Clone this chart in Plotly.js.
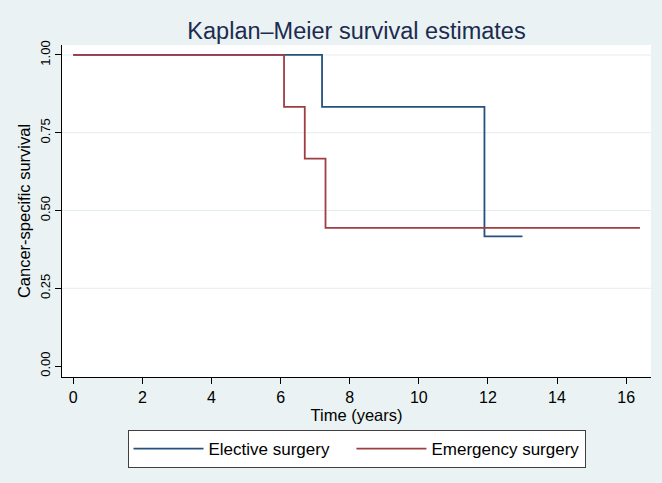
<!DOCTYPE html>
<html>
<head>
<meta charset="utf-8">
<script src="https://cdn.plot.ly/plotly-3.0.1.min.js"></script>
<style>
  html, body { margin: 0; padding: 0; background: #eaf2f3; }
  #km { width: 662px; height: 483px; }
</style>
</head>
<body>
<div id="km"></div>
<script>
// Kaplan–Meier step estimates, time in years
const electiveTime = [0, 7.2, 11.9, 13.0];
const electiveSurv = [1.0, 0.833, 0.417, 0.417];
const emergencyTime = [0, 6.1, 6.7, 7.3, 16.4];
const emergencySurv = [1.0, 0.833, 0.667, 0.444, 0.444];

const seriesNames = ['Elective surgery', 'Emergency surgery'];
const xTicks = [0, 2, 4, 6, 8, 10, 12, 14, 16];
const yTicks = [0, 0.25, 0.5, 0.75, 1.0];

const font = 'Liberation Sans, Arial, sans-serif';
// two en spaces widen the first legend entry so the keys sit further apart
const entryPad = '\u2002\u2002';

const traces = [
  {
    x: electiveTime, y: electiveSurv, name: seriesNames[0] + entryPad,
    type: 'scatter', mode: 'lines',
    line: { shape: 'hv', color: '#24527f', width: 1.8 }
  },
  {
    x: emergencyTime, y: emergencySurv, name: seriesNames[1],
    type: 'scatter', mode: 'lines',
    line: { shape: 'hv', color: '#9e3d43', width: 1.8 }
  }
];

// horizontal grid rules at the labelled levels, skipping the one at the baseline
const gridShapes = yTicks.filter(v => v > 0).map(v => ({
  type: 'line', xref: 'paper', yref: 'y',
  x0: 0, x1: 1, y0: v, y1: v,
  line: { color: '#e4edef', width: 1 },
  layer: 'below'
}));

const layout = {
  width: 662, height: 483,
  paper_bgcolor: '#eaf2f3',
  plot_bgcolor: '#ffffff',
  margin: { l: 62, r: 11, t: 45, b: 106 },
  font: { family: font, color: '#000000', size: 14 },
  title: {
    text: 'Kaplan–Meier survival estimates',
    font: { family: font, size: 23.5, color: '#1c2b4f' },
    x: 0.5, xanchor: 'center', xref: 'paper',
    y: 1 - 31 / 483, yanchor: 'middle'
  },
  shapes: gridShapes,
  xaxis: {
    range: [-0.326, 16.72],
    tickvals: xTicks,
    ticktext: xTicks.map(String),
    ticks: 'outside', ticklen: 6, tickwidth: 1, tickcolor: '#000',
    showline: true, linecolor: '#000', linewidth: 1,
    showgrid: false, zeroline: false,
    tickfont: { family: font, size: 16, color: '#000' },
    title: { text: 'Time (years)', font: { family: font, size: 16.5, color: '#000' }, standoff: 0 }
  },
  yaxis: {
    range: [-0.035, 1.032],
    tickvals: yTicks,
    tickformat: '.2f',
    tickangle: -90,
    ticks: 'outside', ticklen: 6, tickwidth: 1, tickcolor: '#000',
    showline: true, linecolor: '#000', linewidth: 1,
    showgrid: false, zeroline: false,
    tickfont: { family: font, size: 13, color: '#000' },
    title: { text: 'Cancer-specific survival', font: { family: font, size: 16.5, color: '#000' }, standoff: 3 }
  },
  showlegend: true,
  legend: {
    orientation: 'h',
    x: 0.5, xanchor: 'center',
    y: -0.160, yanchor: 'top',
    bgcolor: '#ffffff',
    bordercolor: '#404040', borderwidth: 1,
    font: { family: font, size: 17, color: '#000' },
    itemwidth: 70,
    itemclick: false, itemdoubleclick: false
  }
};

Plotly.newPlot('km', traces, layout, { displayModeBar: false, staticPlot: true });
</script>
</body>
</html>
